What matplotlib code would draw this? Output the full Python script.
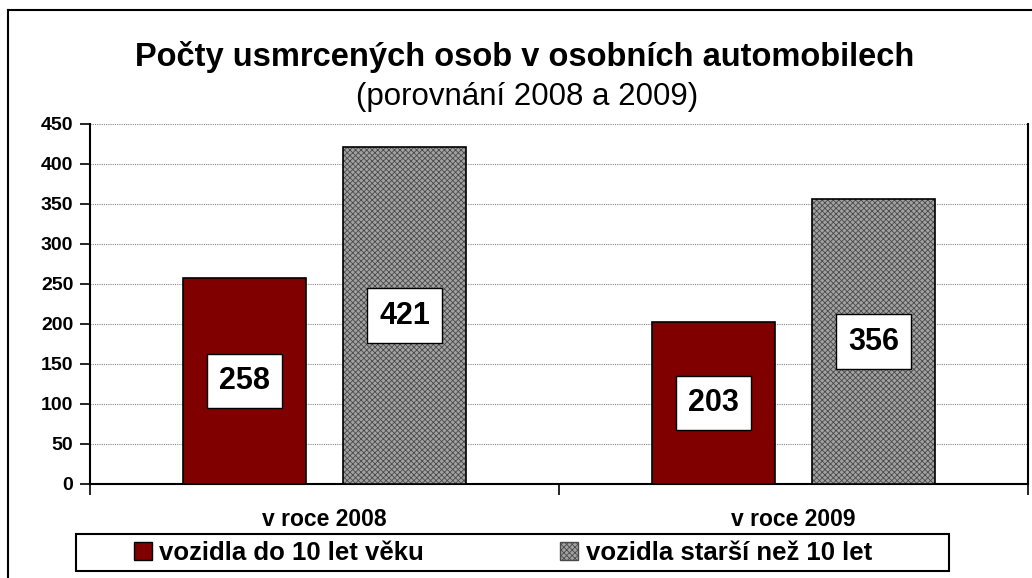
import numpy as np
import matplotlib.pyplot as plt
from matplotlib.patches import Patch, Rectangle
from matplotlib.lines import Line2D

plt.rcParams['font.family'] = ['Liberation Sans', 'DejaVu Sans']
plt.rcParams['hatch.linewidth'] = 0.6

# data
categories = ["v roce 2008", "v roce 2009"]
series_names = ["vozidla do 10 let věku", "vozidla starší než 10 let"]
new_cars = [258, 203]
old_cars = [421, 356]
y_ticks = [0, 50, 100, 150, 200, 250, 300, 350, 400, 450]

title = "Počty usmrcených osob v osobních automobilech"
subtitle = "(porovnání 2008 a 2009)"

W, H = 1032, 578
fig = plt.figure(figsize=(W / 100, H / 100), dpi=100)
ax = fig.add_axes([90 / W, 1 - 484 / H, (1028 - 90) / W, (484 - 124) / H])

x = np.arange(len(categories))
bw = 0.262
off = 0.171
red = "#800000"
gray = "#a2a2a2"
hatch = "xxxxxx"

ax.bar(x - off, new_cars, bw, color=red, edgecolor="black", linewidth=1.2, zorder=3)
# hatched gray bars: pattern first, then the black outline
ax.bar(x + off, old_cars, bw, color=gray, edgecolor="#4a4a4a", hatch=hatch,
       linewidth=0, zorder=3)
ax.bar(x + off, old_cars, bw, color="none", edgecolor="black", linewidth=1.2, zorder=4)

# value labels in white boxes at half of bar height
for xs, vals in ((x - off, new_cars), (x + off, old_cars)):
    for xi, v in zip(xs, vals):
        ax.text(xi, v / 2, str(v), ha="center", va="center", fontsize=22,
                fontweight="bold", zorder=5,
                bbox=dict(boxstyle="square,pad=0.4", fc="white", ec="black", lw=1))

ax.set_ylim(0, 450)
ax.set_xlim(-0.5, 1.5)
ax.set_yticks(y_ticks)
ax.set_yticklabels([str(t) for t in y_ticks], fontsize=14, fontweight="bold")
ax.yaxis.grid(True, color="#888888", linestyle=(0, (1, 1)), linewidth=0.8, zorder=0)

ax.set_xticks([-0.5, 0.5, 1.5])
ax.set_xticklabels([])
ax.set_xticks(x, minor=True)
ax.set_xticklabels(categories, minor=True, fontsize=16.5, fontweight="bold")
ax.tick_params(axis="x", which="minor", length=0, pad=17)
ax.tick_params(axis="x", which="major", length=8, width=1.2, direction="out")
ax.tick_params(axis="y", length=7, width=1.2, direction="out", pad=5)

for s in ("left", "bottom", "right"):
    ax.spines[s].set_linewidth(1.5)
ax.spines["top"].set_visible(False)

# legend (frame drawn separately, it is wider than its content)
handles = [Patch(facecolor=red, edgecolor="black"),
           Patch(facecolor=gray, edgecolor="#4a4a4a", hatch=hatch)]
leg = fig.legend(handles, series_names, loc="center", bbox_to_anchor=(503 / W, 1 - 553 / H),
                 ncol=2, prop={"weight": "bold", "size": 18.5}, frameon=False,
                 handlelength=0.7, handleheight=0.7,
                 handletextpad=0.3, columnspacing=5.3, borderpad=0.2, borderaxespad=0)
fig.add_artist(Rectangle((76 / W, 1 - 571 / H), (949 - 76) / W, 37 / H,
                         transform=fig.transFigure, fill=False, ec="black", lw=1.5))

fig.text(525 / W, 1 - 57 / H, title, ha="center", va="center", fontsize=23.5, fontweight="bold")
fig.text(527 / W, 1 - 97 / H, subtitle, ha="center", va="center", fontsize=22.5)

# chart border (top and left visible in the crop)
fig.add_artist(Line2D([8 / W, 1], [1 - 10 / H, 1 - 10 / H], color="black", lw=1.5))
fig.add_artist(Line2D([8 / W, 8 / W], [0, 1 - 10 / H], color="black", lw=1.5))

fig.savefig("out.png", dpi=100)
